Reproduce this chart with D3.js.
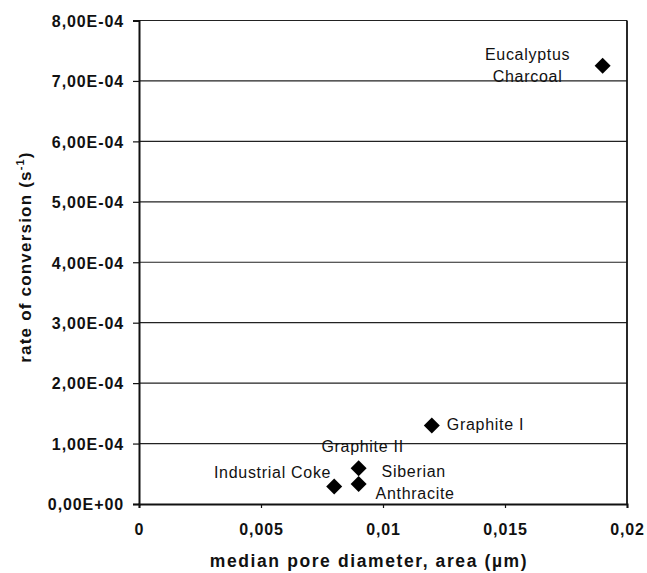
<!DOCTYPE html>
<html>
<head>
<meta charset="utf-8">
<script src="https://cdn.jsdelivr.net/npm/d3@7"></script>
<style>
  html, body { margin: 0; padding: 0; background: #fff; }
  svg text { font-family: "Liberation Sans", Arial, Helvetica, sans-serif; fill: #111; }
</style>
</head>
<body>
<svg id="chart" width="647" height="573"></svg>
<script>
// Carbon samples: median pore diameter (µm) vs. rate of conversion (1/s)
const samples = ["Eucalyptus Charcoal", "Graphite I", "Graphite II", "Siberian Anthracite", "Industrial Coke"];
const poreDiameter = [0.019, 0.012, 0.009, 0.009, 0.008];
const conversionRate = [7.25e-4, 1.30e-4, 5.9e-5, 3.3e-5, 2.9e-5];

const xTicks = [0, 0.005, 0.01, 0.015, 0.02];
const xTickLabels = ["0", "0,005", "0,01", "0,015", "0,02"];
const yTicks = [0, 1e-4, 2e-4, 3e-4, 4e-4, 5e-4, 6e-4, 7e-4, 8e-4];
const yTickLabels = ["0,00E+00", "1,00E-04", "2,00E-04", "3,00E-04", "4,00E-04",
                     "5,00E-04", "6,00E-04", "7,00E-04", "8,00E-04"];

// Label placement around each marker (pixel offsets, anchor, line breaks)
const labelLayout = {
  "Eucalyptus Charcoal": { lines: ["Eucalyptus", "Charcoal"], dx: [-75, -75], dy: [-10, 12], anchor: "middle" },
  "Graphite I":          { lines: ["Graphite I"], dx: [15], dy: [0], anchor: "start" },
  "Graphite II":         { lines: ["Graphite II"], dx: [4], dy: [-21], anchor: "middle" },
  "Siberian Anthracite": { lines: ["Siberian", "Anthracite"], dx: [23, 17], dy: [-11, 11], anchor: "start" },
  "Industrial Coke":     { lines: ["Industrial Coke"], dx: [-3], dy: [-13], anchor: "end" }
};

const svg = d3.select("#chart");
const plotLeft = 139, plotRight = 627, plotTop = 20.5, plotBottom = 504;

const x = d3.scaleLinear().domain([0, 0.02]).range([plotLeft, plotRight]);
const y = d3.scaleLinear().domain([0, 8e-4]).range([plotBottom, plotTop]);

// horizontal gridlines
svg.append("g").selectAll("line")
  .data(yTicks.filter(v => v > 0))
  .join("line")
  .attr("x1", plotLeft).attr("x2", plotRight)
  .attr("y1", d => y(d)).attr("y2", d => y(d))
  .attr("stroke", "#222").attr("stroke-width", 1.2);

// right frame edge
svg.append("line")
  .attr("x1", plotRight).attr("x2", plotRight).attr("y1", plotTop).attr("y2", plotBottom)
  .attr("stroke", "#111").attr("stroke-width", 1.8);

// y axis
const yAxis = d3.axisLeft(y).tickValues(yTicks)
  .tickFormat((d, i) => yTickLabels[i]).tickSize(6).tickPadding(9);
const gy = svg.append("g").attr("transform", `translate(${plotLeft},0)`).call(yAxis);
gy.select(".domain").attr("stroke", "#111").attr("stroke-width", 2);
gy.selectAll(".tick line").attr("stroke", "#111").attr("stroke-width", 1.2);
gy.selectAll(".tick text")
  .style("font-size", "16px").style("font-weight", "bold").style("letter-spacing", "0.9px")
  .attr("fill", "#111").attr("dy", "0.36em");

// x axis
const xAxis = d3.axisBottom(x).tickValues(xTicks)
  .tickFormat((d, i) => xTickLabels[i]).tickSize(4).tickPadding(16);
const gx = svg.append("g").attr("transform", `translate(0,${plotBottom})`).call(xAxis);
gx.select(".domain").attr("stroke", "#111").attr("stroke-width", 2);
gx.selectAll(".tick line").attr("stroke", "#111").attr("stroke-width", 1.2);
gx.selectAll(".tick text")
  .style("font-size", "16px").style("font-weight", "bold").style("letter-spacing", "0.9px")
  .attr("fill", "#111");

// axis titles
svg.append("text")
  .attr("x", 369).attr("y", 562)
  .attr("text-anchor", "middle").attr("dominant-baseline", "middle")
  .style("font-size", "17.5px").style("font-weight", "bold").style("letter-spacing", "1.6px")
  .text("median pore diameter, area (\u00b5m)");

const yTitle = svg.append("text")
  .attr("transform", "translate(27,257) rotate(-90)")
  .attr("text-anchor", "middle").attr("dominant-baseline", "middle")
  .style("font-size", "17px").style("font-weight", "bold").style("letter-spacing", "1.2px");
yTitle.append("tspan").text("rate of conversion (s");
yTitle.append("tspan").attr("baseline-shift", "super").style("font-size", "11px").text("-1");
yTitle.append("tspan").text(")");

// markers
const points = samples.map((s, i) => ({ name: s, px: poreDiameter[i], rate: conversionRate[i] }));
svg.append("g").selectAll("path")
  .data(points)
  .join("path")
  .attr("d", d3.symbol(d3.symbolSquare, 128))
  .attr("transform", d => `translate(${x(d.px)},${y(d.rate)}) rotate(45)`)
  .attr("fill", "#000");

// sample labels
const lbl = svg.append("g");
points.forEach(d => {
  const L = labelLayout[d.name];
  L.lines.forEach((t, j) => {
    lbl.append("text")
      .attr("x", x(d.px) + L.dx[j]).attr("y", y(d.rate) + L.dy[j])
      .attr("text-anchor", L.anchor).attr("dominant-baseline", "middle")
      .style("font-size", "16px").style("letter-spacing", "0.7px")
      .text(t);
  });
});
</script>
</body>
</html>
